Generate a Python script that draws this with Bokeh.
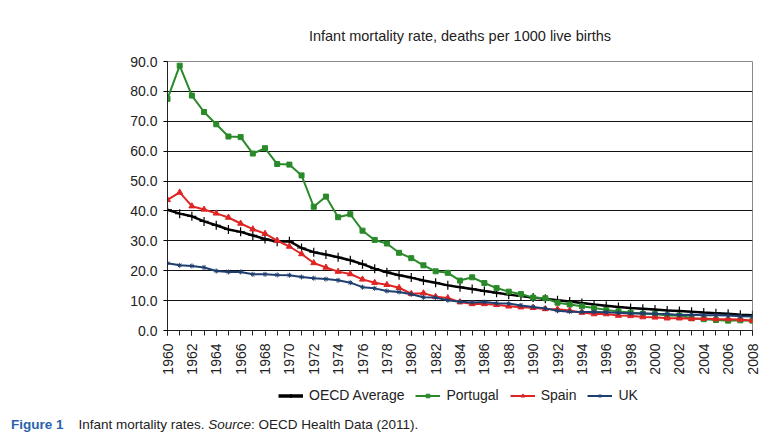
import math
from bokeh.plotting import figure
from bokeh.models import (ColumnDataSource, Legend, LegendItem, SingleIntervalTicker,
                          NumeralTickFormatter, Range1d, Div)
from bokeh.layouts import column
from bokeh.embed import file_html
from bokeh.resources import INLINE

years = list(range(1960, 2009))

oecd = [40.4, 39.1, 38.2, 36.5, 35.2, 33.8, 33.0, 31.8, 30.6, 29.7,
        29.9, 27.6, 26.2, 25.4, 24.5, 23.5, 22.2, 20.7, 19.5, 18.5,
        17.7, 16.7, 16.0, 15.1, 14.5, 13.9, 13.2, 12.6, 12.0, 11.5,
        11.0, 10.6, 10.1, 9.7, 9.2, 8.7, 8.3, 7.9, 7.5, 7.3,
        7.0, 6.7, 6.5, 6.3, 6.0, 5.8, 5.6, 5.3, 5.1]

portugal = [77.5, 88.6, 78.6, 73.1, 69.0, 64.9, 64.7, 59.2, 61.0, 55.7,
            55.5, 51.9, 41.4, 44.8, 37.9, 38.9, 33.4, 30.3, 29.1, 26.0,
            24.2, 21.8, 19.8, 19.3, 16.7, 17.8, 15.9, 14.2, 13.0, 12.2,
            11.0, 10.8, 9.3, 8.7, 8.1, 7.5, 6.9, 6.4, 6.0, 5.6,
            5.5, 5.0, 5.0, 4.1, 3.8, 3.5, 3.3, 3.4, 3.3]

spain = [43.7, 46.2, 41.6, 40.5, 39.2, 37.8, 35.8, 33.9, 32.4, 30.1,
         28.1, 25.6, 22.6, 21.1, 19.7, 18.9, 17.1, 16.0, 15.3, 14.3,
         12.3, 12.5, 11.3, 10.9, 9.5, 8.9, 8.9, 8.6, 8.1, 7.8,
         7.6, 7.2, 7.1, 6.7, 6.0, 5.5, 5.5, 5.0, 4.9, 4.5,
         4.4, 4.1, 4.1, 3.9, 4.0, 3.8, 3.8, 3.7, 3.3]

uk = [22.5, 21.8, 21.6, 21.1, 19.9, 19.6, 19.6, 18.8, 18.8, 18.6,
      18.5, 17.9, 17.5, 17.2, 16.8, 16.0, 14.5, 14.1, 13.2, 12.9,
      12.1, 11.1, 11.0, 10.1, 9.6, 9.4, 9.5, 9.1, 9.0, 8.4,
      7.9, 7.4, 6.6, 6.3, 6.2, 6.2, 6.1, 5.9, 5.7, 5.8,
      5.6, 5.5, 5.2, 5.3, 5.1, 5.1, 5.0, 4.8, 4.7]

title_text = "Infant mortality rate, deaths per 1000 live births"
series_names = ["OECD Average", "Portugal", "Spain", "UK"]

src = ColumnDataSource(dict(year=years, oecd=oecd, portugal=portugal, spain=spain, uk=uk))

FONT = "Liberation Sans"
TXT = "#222222"

p = figure(width=768, height=377, output_backend="svg", toolbar_location=None,
           x_range=Range1d(1960, 2008), y_range=Range1d(0, 90),
           min_border_left=167, min_border_right=16, min_border_top=61,
           min_border_bottom=47, title=title_text)

p.title.align = "center"
p.title.text_font = FONT
p.title.text_font_size = "14.5px"
p.title.text_font_style = "normal"
p.title.text_color = TXT
p.title.standoff = 35

p.outline_line_color = "#8a8a8a"
p.outline_line_width = 1
p.background_fill_color = "white"
p.border_fill_color = "white"

p.xgrid.grid_line_color = None
p.ygrid.grid_line_color = "#111111"
p.ygrid.grid_line_width = 1
p.ygrid.ticker = SingleIntervalTicker(interval=10)

p.yaxis.ticker = SingleIntervalTicker(interval=10)
p.yaxis.formatter = NumeralTickFormatter(format="0.0")
p.yaxis.major_label_text_font = FONT
p.yaxis.major_label_text_font_size = "14px"
p.yaxis.major_label_text_color = TXT
p.yaxis.axis_line_color = TXT
p.yaxis.major_tick_out = 4
p.yaxis.major_tick_in = 0
p.yaxis.minor_tick_line_color = None
p.yaxis.major_label_standoff = 6

p.xaxis.ticker = SingleIntervalTicker(interval=2, num_minor_ticks=2)
p.xaxis.major_label_orientation = math.pi / 2
p.xaxis.major_label_text_font = FONT
p.xaxis.major_label_text_font_size = "14px"
p.xaxis.major_label_text_color = TXT
p.xaxis.axis_line_color = TXT
p.xaxis.major_tick_out = 5
p.xaxis.major_tick_in = 0
p.xaxis.minor_tick_out = 5
p.xaxis.minor_tick_in = 0
p.xaxis.minor_tick_line_color = TXT
p.xaxis.major_label_standoff = 8

black = "#000000"
green = "#2a8a2a"
red = "#e02424"
blue = "#1f3f6e"
colors = [black, green, red, blue]
markers = ["cross", "square", "triangle", "asterisk"]
msizes = [9, 5, 6, 5]
lwidths = [2.5, 2, 2, 2]
cols = ["oecd", "portugal", "spain", "uk"]

for c, col, mk, ms, lw in zip(cols, colors, markers, msizes, lwidths):
    p.line("year", c, source=src, line_color=col, line_width=lw)
    p.scatter("year", c, source=src, marker=mk, size=ms, fill_color=col,
              line_color=col, line_width=1.2 if mk == "cross" else 1)

# legend strip
lf = figure(width=768, height=33, output_backend="svg", toolbar_location=None,
            x_range=Range1d(0, 1), y_range=Range1d(0, 1),
            min_border=0, min_border_left=0, min_border_right=0,
            min_border_top=0, min_border_bottom=0)
lf.axis.visible = False
lf.grid.visible = False
lf.outline_line_color = None
lf.background_fill_color = "white"
lf.border_fill_color = "white"

nan = float("nan")
items = []
for name, col, mk, lw in zip(series_names, colors, markers, lwidths):
    r1 = lf.line([nan], [nan], line_color=col, line_width=3.5 if col == black else 2)
    r2 = lf.scatter([nan], [nan], marker=mk, size=5,
                    fill_color=col, line_color=col, line_width=2 if mk == "cross" else 1)
    items.append(LegendItem(label=name, renderers=[r1, r2]))

legend = Legend(items=items, orientation="horizontal", location=(111, 5))
legend.label_text_font = FONT
legend.label_text_font_size = "14px"
legend.label_text_color = TXT
legend.border_line_color = None
legend.background_fill_alpha = 0
legend.glyph_width = 25
legend.glyph_height = 9
legend.label_height = 20
legend.spacing = 11
legend.label_standoff = 6
legend.padding = 0
legend.margin = 0
lf.add_layout(legend, "center")

caption = Div(
    text=('<span style="color:#2a62ad;font-weight:bold;">Figure 1</span>'
          '&nbsp;&nbsp;&nbsp;&nbsp;Infant mortality rates. <i>Source</i>: OECD Health Data (2011).'),
    width=768, height=33,
    styles={"font-family": "'Liberation Sans Narrow', 'Liberation Sans', sans-serif",
            "font-size": "13.5px", "color": TXT, "padding-left": "6px",
            "padding-top": "0px"})

layout = column(p, lf, caption)

open("out.html", "w").write(file_html(layout, INLINE))
